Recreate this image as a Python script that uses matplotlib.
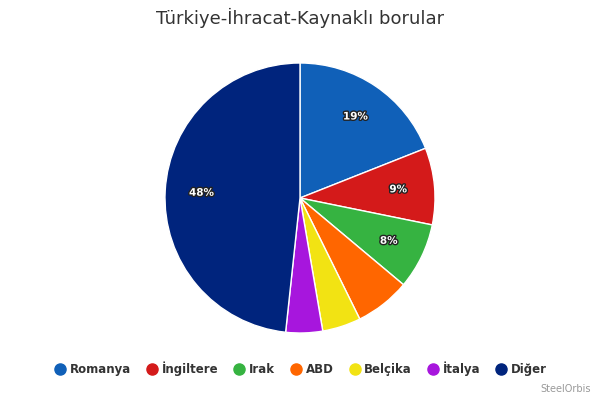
import matplotlib
matplotlib.use("Agg")
import matplotlib.pyplot as plt
import matplotlib.patheffects as pe
from matplotlib.lines import Line2D
import numpy as np

categories = ["Romanya", "İngiltere", "Irak", "ABD", "Belçika", "İtalya", "Diğer"]
values = [19.0, 9.2, 7.9, 6.6, 4.6, 4.4, 48.3]
labels_shown = ["19%", "9%", "8%", "", "", "", "48%"]
colors = ["#1060b8", "#d41a1a", "#36b341", "#ff6600", "#f2e313", "#a716dd", "#00247d"]

fig = plt.figure(figsize=(6, 4), dpi=100)
ax = fig.add_axes([0.5 - 0.225, 0.505 - 0.3375, 0.45, 0.675])
wedges, _ = ax.pie(values, colors=colors, startangle=90, counterclock=False,
                   wedgeprops=dict(edgecolor="white", linewidth=1))
for w, lab in zip(wedges, labels_shown):
    if not lab:
        continue
    ang = np.deg2rad((w.theta1 + w.theta2) / 2)
    ax.text(0.73 * np.cos(ang), 0.73 * np.sin(ang), lab, ha="center", va="center",
            color="white", fontsize=7.5, fontweight="bold",
            path_effects=[pe.withStroke(linewidth=2, foreground="#222222")])
ax.set_xlim(-1.0, 1.0)
ax.set_ylim(-1.0, 1.0)
ax.set_aspect("equal")

fig.text(0.5, 0.955, "Türkiye-İhracat-Kaynaklı borular", ha="center", va="center",
         fontsize=13, color="#333333")

handles = [Line2D([], [], marker="o", linestyle="", markersize=8, color=c) for c in colors]
fig.legend(handles, categories, loc="center", bbox_to_anchor=(0.5, 0.077), ncol=7,
           frameon=False, handletextpad=0.2, columnspacing=1.2, handlelength=1.2,
           prop=dict(weight="bold", size=8.5), labelcolor="#333333")
fig.text(0.985, 0.015, "SteelOrbis", ha="right", va="bottom", fontsize=7, color="#999999")
fig.savefig("out.png", dpi=100, facecolor="white")
